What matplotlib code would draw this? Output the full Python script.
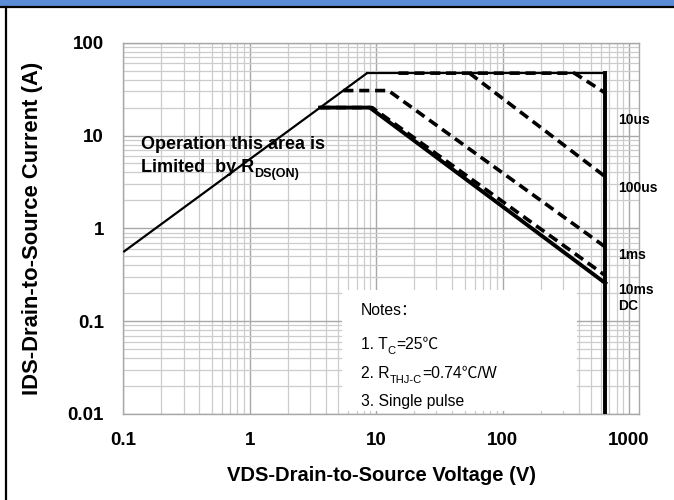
import matplotlib
matplotlib.use("Agg")
import matplotlib.pyplot as plt
from matplotlib.patches import Rectangle
from matplotlib.lines import Line2D

# ---------------- data ----------------
rds_v = [0.1, 8.47]
rds_i = [0.556, 47]
top_v = [8.47, 650, 650]
top_i = [47, 47, 0.01]
dc_v = [3.6, 8.9, 650]
dc_i = [20, 20, 0.257]
ms10_v = [3.6, 9.3, 650]
ms10_i = [20, 20, 0.31]
ms1_v = [5.5, 12.5, 650]
ms1_i = [30.5, 30.5, 0.63]
us100_v = [54.7, 650]
us100_i = [47, 3.6]
us10_v = [15, 370, 650]
us10_i = [47, 47, 28.7]

x_ticks = [0.1, 1, 10, 100, 1000]
x_ticklabels = ["0.1", "1", "10", "100", "1000"]
y_ticks = [0.01, 0.1, 1, 10, 100]
y_ticklabels = ["0.01", "0.1", "1", "10", "100"]
curve_labels = ["10us", "100us", "1ms", "10ms", "DC"]

FONT = ["Liberation Sans", "Noto Sans CJK SC", "DejaVu Sans"]
plt.rcParams["font.family"] = FONT

fig = plt.figure(figsize=(6.74, 5.0), dpi=100)
W, H = 674, 500

# header bar and border
fig.patches.append(Rectangle((0, 1 - 6.5 / H), 1, 6.5 / H, transform=fig.transFigure,
                             facecolor="#5A8DD5", edgecolor="none", zorder=0))
fig.add_artist(Line2D([0, 1], [1 - 7.3 / H, 1 - 7.3 / H], transform=fig.transFigure,
                      color="black", lw=1.6))
fig.add_artist(Line2D([6 / W, 6 / W], [0, 1 - 7.3 / H], transform=fig.transFigure,
                      color="black", lw=1.6))

L, R, T, B = 123.3, 639, 42.7, 414
ax = fig.add_axes([L / W, 1 - B / H, (R - L) / W, (B - T) / H])
ax.set_xscale("log")
ax.set_yscale("log")
ax.set_xlim(0.1, 1200)
ax.set_ylim(0.01, 100)

ax.grid(True, which="major", color="#A8A8A8", lw=1.0)
ax.grid(True, which="minor", color="#CCCCCC", lw=0.9)
ax.set_axisbelow(True)
for s in ax.spines.values():
    s.set_color("#A8A8A8")
    s.set_linewidth(1.0)
ax.tick_params(which="both", length=0)
ax.set_xticks(x_ticks)
ax.set_xticklabels(x_ticklabels)
ax.set_yticks(y_ticks)
ax.set_yticklabels(y_ticklabels)
ax.tick_params(axis="x", pad=13, labelsize=13.5)
ax.tick_params(axis="y", pad=14, labelsize=13.5)
for lab in ax.get_xticklabels() + ax.get_yticklabels():
    lab.set_fontweight("bold")

ax.set_xlabel("VDS-Drain-to-Source Voltage (V)", fontsize=14.5, fontweight="bold", labelpad=12)
ax.set_ylabel("IDS-Drain-to-Source Current (A)", fontsize=15.8, fontweight="bold")
ax.yaxis.set_label_coords(-(L - 43) / (R - L), 0.5)

# notes box
ax.add_patch(Rectangle((0.424, 0.008), 0.456, 0.325, transform=ax.transAxes,
                       facecolor="white", edgecolor="none", zorder=1.5))

# curves
ax.plot(rds_v, rds_i, color="black", lw=1.6, zorder=4, solid_capstyle="butt")
ax.plot(top_v, top_i, color="black", lw=1.6, zorder=4)
ax.plot(top_v[1:], top_i[1:], color="black", lw=2.8, zorder=4)
ax.plot(dc_v, dc_i, color="black", lw=2.8, zorder=4)
dash = dict(color="black", lw=2.6, dashes=(2.8, 1.6), zorder=5)
ax.plot(ms10_v, ms10_i, **dash)
ax.plot(ms1_v, ms1_i, **dash)
ax.plot(us100_v, us100_i, **dash)
ax.plot(us10_v, us10_i, **dash)

# curve labels
label_y = [0.792, 0.609, 0.428, 0.334, 0.291]
for txt, yy in zip(curve_labels, label_y):
    ax.text(0.959, yy, txt, transform=ax.transAxes, fontsize=10, fontweight="bold",
            ha="left", va="center", zorder=6)


def rich(x, y, pieces, size, weight="normal"):
    base = ax.text(x, y, pieces[0][0], transform=ax.transAxes, fontsize=size,
                   fontweight=weight, ha="left", va="center", zorder=6)
    prev = base
    for txt, sz, dy in pieces[1:]:
        prev = ax.annotate(txt, xy=(1, 0), xycoords=(prev, base), xytext=(0, dy),
                           textcoords="offset points", fontsize=sz, fontweight=weight,
                           ha="left", va="bottom", zorder=6)
    return base


# R_DS(on) annotation
ax.text(0.0335, 0.7245, "Operation this area is", transform=ax.transAxes, fontsize=13,
        fontweight="bold", ha="left", va="center", zorder=6)
rich(0.0335, 0.665, [("Limited  by R", None, 0), ("DS(ON)", 9, -3.5)], 13, "bold")

# notes
ax.text(0.461, 0.278, "Notes：", transform=ax.transAxes, fontsize=11.3, ha="left",
        va="center", zorder=6)
rich(0.461, 0.1885, [("1. T", None, 0), ("C", 8, -3), ("=25℃", 11.3, 0)], 11.3)
rich(0.461, 0.110, [("2. R", None, 0), ("THJ-C", 8, -3), ("=0.74℃/W", 11.3, 0)], 11.3)
ax.text(0.461, 0.035, "3. Single pulse", transform=ax.transAxes, fontsize=11.3,
        ha="left", va="center", zorder=6)

fig.savefig("out.png", dpi=100)
